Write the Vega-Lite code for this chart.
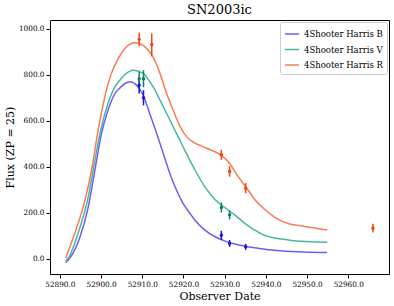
{
  "$schema": "https://vega.github.io/schema/vega-lite/v6.json",
  "autosize": "none",
  "width": 339,
  "height": 254,
  "padding": {"left": 50, "top": 20, "right": 5, "bottom": 32},
  "background": "white",
  "title": {"text": "SN2003ic", "font": "DejaVu Serif", "fontSize": 13, "fontWeight": "normal", "color": "black", "offset": 3},
  "config": {
    "view": {"stroke": "black", "strokeWidth": 1},
    "axis": {"domain": false, "grid": false, "ticks": true, "tickColor": "black", "tickSize": 4, "labelFont": "DejaVu Serif", "labelFontSize": 7.3, "labelColor": "black", "titleFont": "DejaVu Serif", "titleFontSize": 11, "titleFontWeight": "normal", "titleColor": "black", "labelPadding": 2},
    "legend": {"labelFont": "DejaVu Serif", "labelFontSize": 8.5, "labelColor": "black"}
  },
  "datasets": {
    "curves": [
      {"date": 52891.4, "flux": -17, "band": "4Shooter Harris B"},
      {"date": 52892.5, "flux": 5, "band": "4Shooter Harris B"},
      {"date": 52894.9, "flux": 96, "band": "4Shooter Harris B"},
      {"date": 52896.9, "flux": 226, "band": "4Shooter Harris B"},
      {"date": 52898.5, "flux": 386, "band": "4Shooter Harris B"},
      {"date": 52900.1, "flux": 545, "band": "4Shooter Harris B"},
      {"date": 52901.7, "flux": 647, "band": "4Shooter Harris B"},
      {"date": 52903.4, "flux": 719, "band": "4Shooter Harris B"},
      {"date": 52904.6, "flux": 743, "band": "4Shooter Harris B"},
      {"date": 52905.8, "flux": 762, "band": "4Shooter Harris B"},
      {"date": 52907.0, "flux": 770, "band": "4Shooter Harris B"},
      {"date": 52908.6, "flux": 755, "band": "4Shooter Harris B"},
      {"date": 52910.2, "flux": 712, "band": "4Shooter Harris B"},
      {"date": 52911.8, "flux": 632, "band": "4Shooter Harris B"},
      {"date": 52913.5, "flux": 545, "band": "4Shooter Harris B"},
      {"date": 52915.1, "flux": 458, "band": "4Shooter Harris B"},
      {"date": 52916.7, "flux": 371, "band": "4Shooter Harris B"},
      {"date": 52918.3, "flux": 299, "band": "4Shooter Harris B"},
      {"date": 52919.9, "flux": 241, "band": "4Shooter Harris B"},
      {"date": 52921.6, "flux": 197, "band": "4Shooter Harris B"},
      {"date": 52922.8, "flux": 168, "band": "4Shooter Harris B"},
      {"date": 52925.2, "flux": 125, "band": "4Shooter Harris B"},
      {"date": 52927.7, "flux": 96, "band": "4Shooter Harris B"},
      {"date": 52930.0, "flux": 78, "band": "4Shooter Harris B"},
      {"date": 52932.5, "flux": 64, "band": "4Shooter Harris B"},
      {"date": 52934.9, "flux": 55, "band": "4Shooter Harris B"},
      {"date": 52937.3, "flux": 48, "band": "4Shooter Harris B"},
      {"date": 52942.6, "flux": 36, "band": "4Shooter Harris B"},
      {"date": 52949.1, "flux": 30, "band": "4Shooter Harris B"},
      {"date": 52954.9, "flux": 27, "band": "4Shooter Harris B"},
      {"date": 52891.4, "flux": -8, "band": "4Shooter Harris V"},
      {"date": 52892.0, "flux": 2, "band": "4Shooter Harris V"},
      {"date": 52894.4, "flux": 110, "band": "4Shooter Harris V"},
      {"date": 52896.9, "flux": 270, "band": "4Shooter Harris V"},
      {"date": 52898.5, "flux": 429, "band": "4Shooter Harris V"},
      {"date": 52900.1, "flux": 574, "band": "4Shooter Harris V"},
      {"date": 52901.7, "flux": 676, "band": "4Shooter Harris V"},
      {"date": 52903.4, "flux": 748, "band": "4Shooter Harris V"},
      {"date": 52904.6, "flux": 777, "band": "4Shooter Harris V"},
      {"date": 52905.8, "flux": 801, "band": "4Shooter Harris V"},
      {"date": 52907.8, "flux": 820, "band": "4Shooter Harris V"},
      {"date": 52910.2, "flux": 806, "band": "4Shooter Harris V"},
      {"date": 52912.6, "flux": 748, "band": "4Shooter Harris V"},
      {"date": 52915.1, "flux": 661, "band": "4Shooter Harris V"},
      {"date": 52917.5, "flux": 574, "band": "4Shooter Harris V"},
      {"date": 52919.9, "flux": 487, "band": "4Shooter Harris V"},
      {"date": 52922.8, "flux": 386, "band": "4Shooter Harris V"},
      {"date": 52925.2, "flux": 313, "band": "4Shooter Harris V"},
      {"date": 52927.7, "flux": 257, "band": "4Shooter Harris V"},
      {"date": 52930.0, "flux": 223, "band": "4Shooter Harris V"},
      {"date": 52932.5, "flux": 190, "band": "4Shooter Harris V"},
      {"date": 52934.9, "flux": 154, "band": "4Shooter Harris V"},
      {"date": 52937.3, "flux": 125, "band": "4Shooter Harris V"},
      {"date": 52939.3, "flux": 105, "band": "4Shooter Harris V"},
      {"date": 52942.6, "flux": 89, "band": "4Shooter Harris V"},
      {"date": 52945.8, "flux": 81, "band": "4Shooter Harris V"},
      {"date": 52954.9, "flux": 72, "band": "4Shooter Harris V"},
      {"date": 52891.4, "flux": 3, "band": "4Shooter Harris R"},
      {"date": 52893.6, "flux": 110, "band": "4Shooter Harris R"},
      {"date": 52896.1, "flux": 255, "band": "4Shooter Harris R"},
      {"date": 52897.7, "flux": 386, "band": "4Shooter Harris R"},
      {"date": 52899.3, "flux": 560, "band": "4Shooter Harris R"},
      {"date": 52900.9, "flux": 704, "band": "4Shooter Harris R"},
      {"date": 52902.5, "flux": 806, "band": "4Shooter Harris R"},
      {"date": 52904.2, "flux": 871, "band": "4Shooter Harris R"},
      {"date": 52906.2, "flux": 922, "band": "4Shooter Harris R"},
      {"date": 52908.2, "flux": 939, "band": "4Shooter Harris R"},
      {"date": 52910.0, "flux": 930, "band": "4Shooter Harris R"},
      {"date": 52911.0, "flux": 915, "band": "4Shooter Harris R"},
      {"date": 52912.6, "flux": 878, "band": "4Shooter Harris R"},
      {"date": 52914.3, "flux": 806, "band": "4Shooter Harris R"},
      {"date": 52915.9, "flux": 719, "band": "4Shooter Harris R"},
      {"date": 52917.5, "flux": 647, "band": "4Shooter Harris R"},
      {"date": 52919.1, "flux": 578, "band": "4Shooter Harris R"},
      {"date": 52920.8, "flux": 530, "band": "4Shooter Harris R"},
      {"date": 52922.5, "flux": 506, "band": "4Shooter Harris R"},
      {"date": 52924.4, "flux": 490, "band": "4Shooter Harris R"},
      {"date": 52928.4, "flux": 458, "band": "4Shooter Harris R"},
      {"date": 52930.9, "flux": 422, "band": "4Shooter Harris R"},
      {"date": 52933.3, "flux": 357, "band": "4Shooter Harris R"},
      {"date": 52935.7, "flux": 299, "band": "4Shooter Harris R"},
      {"date": 52937.3, "flux": 258, "band": "4Shooter Harris R"},
      {"date": 52939.3, "flux": 222, "band": "4Shooter Harris R"},
      {"date": 52942.6, "flux": 176, "band": "4Shooter Harris R"},
      {"date": 52945.8, "flux": 151, "band": "4Shooter Harris R"},
      {"date": 52949.1, "flux": 142, "band": "4Shooter Harris R"},
      {"date": 52954.9, "flux": 125, "band": "4Shooter Harris R"}
    ],
    "obs": [
      {"date": 52909.25, "flux": 754, "lo": 719, "hi": 789, "band": "B"},
      {"date": 52910.3, "flux": 700, "lo": 667, "hi": 733, "band": "B"},
      {"date": 52929.2, "flux": 102, "lo": 82, "hi": 122, "band": "B"},
      {"date": 52931.2, "flux": 67, "lo": 52, "hi": 82, "band": "B"},
      {"date": 52935.1, "flux": 52, "lo": 39, "hi": 65, "band": "B"},
      {"date": 52909.25, "flux": 783, "lo": 753, "hi": 813, "band": "V"},
      {"date": 52910.3, "flux": 783, "lo": 746, "hi": 820, "band": "V"},
      {"date": 52929.2, "flux": 223, "lo": 201, "hi": 245, "band": "V"},
      {"date": 52931.2, "flux": 191, "lo": 171, "hi": 211, "band": "V"},
      {"date": 52909.25, "flux": 954, "lo": 924, "hi": 984, "band": "R"},
      {"date": 52912.3, "flux": 930, "lo": 880, "hi": 980, "band": "R"},
      {"date": 52929.2, "flux": 452, "lo": 430, "hi": 474, "band": "R"},
      {"date": 52931.2, "flux": 380, "lo": 357, "hi": 403, "band": "R"},
      {"date": 52935.1, "flux": 307, "lo": 285, "hi": 329, "band": "R"},
      {"date": 52966.0, "flux": 133, "lo": 114, "hi": 152, "band": "R"}
    ]
  },
  "layer": [
    {
      "mark": {"type": "rule", "color": "#a0a0a0", "strokeWidth": 1.5},
      "encoding": {"y": {"datum": 0, "type": "quantitative", "scale": {"domain": [-66, 1038]}}}
    },
    {
      "data": {"name": "curves"},
      "mark": {"type": "line", "interpolate": "monotone", "strokeWidth": 1.5, "clip": true},
      "encoding": {
        "x": {"field": "date", "type": "quantitative", "title": "Observer Date", "scale": {"domain": [52887.6, 52969.9], "nice": false, "zero": false}, "axis": {"values": [52890, 52900, 52910, 52920, 52930, 52940, 52950, 52960], "format": ".1f", "titlePadding": 3}},
        "y": {"field": "flux", "type": "quantitative", "title": "Flux (ZP = 25)", "scale": {"domain": [-66, 1038], "nice": false, "zero": false}, "axis": {"values": [0, 200, 400, 600, 800, 1000], "format": ".1f", "titlePadding": 3}},
        "color": {"field": "band", "type": "nominal", "scale": {"domain": ["4Shooter Harris B", "4Shooter Harris V", "4Shooter Harris R"], "range": ["#6f5cf6", "#45b8a2", "#fb7a55"]}, "legend": {"title": null, "orient": "top-right", "offset": 2, "padding": 4, "symbolType": "stroke", "symbolSize": 196, "symbolStrokeWidth": 1.5, "rowPadding": 2.5, "labelOffset": 4, "strokeColor": "#cccccc", "fillColor": "white", "cornerRadius": 2}}
      }
    },
    {
      "data": {"name": "obs"},
      "layer": [
        {
          "mark": {"type": "rule", "strokeWidth": 1.5},
          "encoding": {
            "x": {"field": "date", "type": "quantitative"},
            "y": {"field": "lo", "type": "quantitative"},
            "y2": {"field": "hi"},
            "color": {"field": "band", "type": "nominal", "scale": {"domain": ["B", "V", "R"], "range": ["#1a14d8", "#0a8064", "#f54414"]}, "legend": null}
          }
        },
        {
          "mark": {"type": "point", "filled": true, "size": 12, "opacity": 1},
          "encoding": {
            "x": {"field": "date", "type": "quantitative"},
            "y": {"field": "flux", "type": "quantitative"},
            "color": {"field": "band", "type": "nominal", "scale": {"domain": ["B", "V", "R"], "range": ["#1a14d8", "#0a8064", "#f54414"]}, "legend": null}
          }
        }
      ]
    }
  ],
  "resolve": {"scale": {"color": "independent"}}
}
